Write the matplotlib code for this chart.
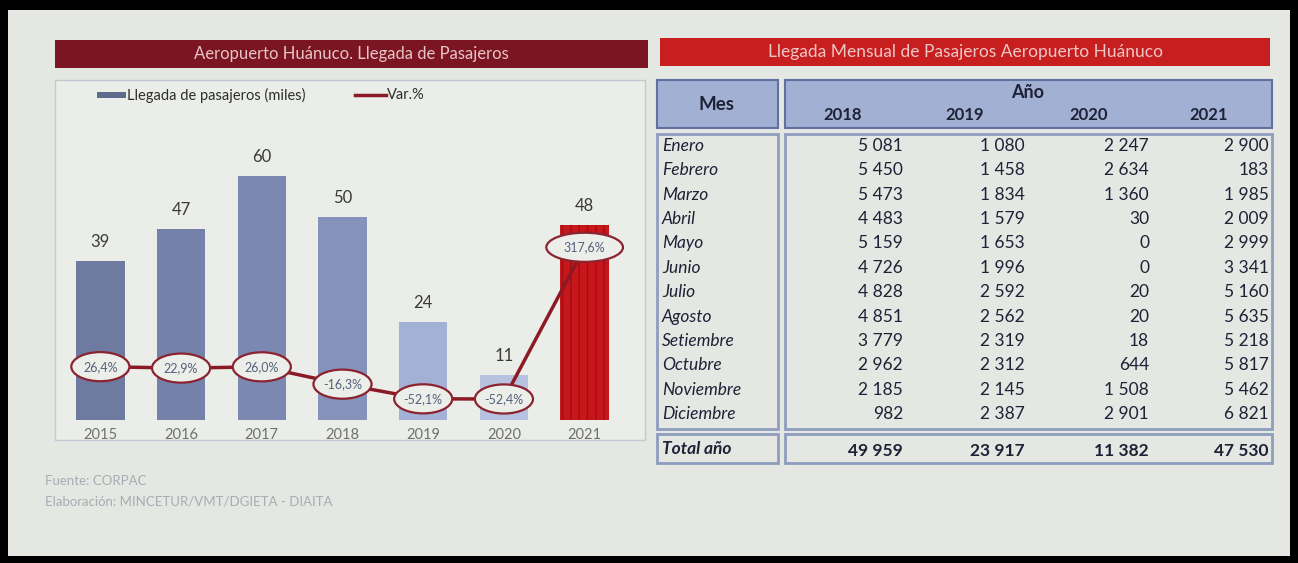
import numpy as np
import matplotlib.pyplot as plt
from matplotlib.patches import Rectangle, Ellipse

plt.rcParams['font.family'] = ['Lato', 'DejaVu Sans']

# data
years = ['2015', '2016', '2017', '2018', '2019', '2020', '2021']
arrivals = [39, 47, 60, 50, 24, 11, 48]          # miles de pasajeros
var_pct = [26.4, 22.9, 26.0, -16.3, -52.1, -52.4, 317.6]

months = ['Enero', 'Febrero', 'Marzo', 'Abril', 'Mayo', 'Junio', 'Julio',
          'Agosto', 'Setiembre', 'Octubre', 'Noviembre', 'Diciembre']
table_years = ['2018', '2019', '2020', '2021']
m2018 = [5081, 5450, 5473, 4483, 5159, 4726, 4828, 4851, 3779, 2962, 2185, 982]
m2019 = [1080, 1458, 1834, 1579, 1653, 1996, 2592, 2562, 2319, 2312, 2145, 2387]
m2020 = [2247, 2634, 1360, 30, 0, 0, 20, 20, 18, 644, 1508, 2901]
m2021 = [2900, 183, 1985, 2009, 2999, 3341, 5160, 5635, 5218, 5817, 5462, 6821]
totals = [49959, 23917, 11382, 47530]

W, H = 1298, 563
fig = plt.figure(figsize=(W / 100, H / 100), dpi=100)
fig.patch.set_facecolor('black')

# full-size overlay in pixel coords for the slide decoration and the table
bg = fig.add_axes([0, 0, 1, 1])
bg.set_xlim(0, W)
bg.set_ylim(H, 0)
bg.axis('off')
bg.add_patch(Rectangle((8, 10), 1282, 546, fc='#e4e7e2', ec='none'))

# title bars
bg.add_patch(Rectangle((55, 40), 593, 28, fc='#7b1521', ec='none'))
bg.text(351, 54, 'Aeropuerto Huánuco. Llegada de Pasajeros', color='#e6c4c8',
        fontsize=12, ha='center', va='center')
bg.add_patch(Rectangle((660, 38), 610, 28, fc='#c71f1f', ec='none'))
bg.text(965, 52, 'Llegada Mensual de Pasajeros Aeropuerto Huánuco', color='#efc6c6',
        fontsize=12.5, ha='center', va='center')

# chart frame + legend
bg.add_patch(Rectangle((55, 80), 590, 360, fc='#eaede8', ec='#c2c9d5', lw=1))
bg.add_patch(Rectangle((97, 92), 29, 6, fc='#5f6a8c', ec='none'))
bg.text(127, 95, 'Llegada de pasajeros (miles)', fontsize=10.5, color='#2e2e2e', va='center')
bg.plot([355, 386], [95, 95], color='#8b1a24', lw=2.5)
bg.text(387, 95, 'Var.%', fontsize=10.5, color='#2e2e2e', va='center')

# footnotes
bg.text(45, 481, 'Fuente: CORPAC', fontsize=9.5, color='#a7adb4', va='center')
bg.text(45, 501, 'Elaboración: MINCETUR/VMT/DGIETA - DIAITA', fontsize=9.5,
        color='#a7adb4', va='center')

# bar chart
ax = fig.add_axes([60 / W, (H - 420) / H, 565 / W, 290 / H])
ax.patch.set_alpha(0)
x = np.arange(len(years))
colors = ['#6e7a9f', '#7482aa', '#7b89b2', '#8592bb', '#a3b1d6', '#b6c2df', '#c8161a']
bars = ax.bar(x, arrivals, width=0.6, color=colors, zorder=1)
bars[-1].set_hatch('||')
bars[-1].set_edgecolor('#9a1014')
bars[-1].set_linewidth(0)
ax.bar_label(bars, padding=8, fontsize=12, color='#3a3a3a')
ax.set_xlim(-0.5, 6.5)
ax.set_ylim(0, 71.3)
ax.set_yticks([])
ax.set_xticks(x, years)
ax.tick_params(axis='x', length=0, pad=6, labelsize=10.5, labelcolor='#707070')
for s in ax.spines.values():
    s.set_visible(False)

# variation line on a secondary scale
ax2 = ax.twinx()
ax2.set_ylim(-103.7, 603.7)
ax2.axis('off')
ax2.plot(x, var_pct, color='#8b1a24', lw=2.5, zorder=2)
for i, v in enumerate(var_pct):
    w = 0.95 if i == len(var_pct) - 1 else 0.72
    ax2.add_patch(Ellipse((i, v), w, 71, fc='#eceee9', ec='#8b2330', lw=1.6, zorder=3))
    ax2.text(i, v, f'{v:.1f}%'.replace('.', ','), fontsize=9, color='#56627c',
             ha='center', va='center', zorder=4)

# table
hdr_fc, hdr_ec, body_ec, txt = '#a2b1d3', '#5f71a0', '#8f9dbf', '#1d2236'
bg.add_patch(Rectangle((657, 80), 121, 48, fc=hdr_fc, ec=hdr_ec, lw=1.5))
bg.add_patch(Rectangle((785, 80), 487, 48, fc=hdr_fc, ec=hdr_ec, lw=1.5))
bg.text(717, 104, 'Mes', fontsize=13.5, fontweight='bold', color=txt, ha='center', va='center')
bg.text(1028, 92, 'Año', fontsize=13, fontweight='bold', color=txt, ha='center', va='center')
right_edges = [903, 1025, 1149, 1269]
for yr, xr in zip(table_years, right_edges):
    bg.text(xr - 60, 115, yr, fontsize=12, fontweight='bold', color=txt,
            ha='center', va='center')

bg.add_patch(Rectangle((657, 134), 121, 295, fc='none', ec=body_ec, lw=2))
bg.add_patch(Rectangle((785, 134), 487, 295, fc='none', ec=body_ec, lw=2))
bg.add_patch(Rectangle((657, 434), 121, 29, fc='none', ec=body_ec, lw=2))
bg.add_patch(Rectangle((785, 434), 487, 29, fc='none', ec=body_ec, lw=2))


def fmt(v):
    return f'{v:,}'.replace(',', ' ')


cols = [m2018, m2019, m2020, m2021]
for r, m in enumerate(months):
    yy = 146 + r * 24.36
    bg.text(662, yy, m, fontsize=12.5, style='italic', color=txt, va='center')
    for col, xr in zip(cols, right_edges):
        bg.text(xr, yy, fmt(col[r]), fontsize=12.5, color=txt, ha='right', va='center')

bg.text(662, 449, 'Total año', fontsize=12.5, style='italic', fontweight='bold',
        color=txt, va='center')
for t, xr in zip(totals, right_edges):
    bg.text(xr, 451, fmt(t), fontsize=12.5, fontweight='bold', color=txt,
            ha='right', va='center')

fig.savefig('out.png', dpi=100, facecolor=fig.get_facecolor())
